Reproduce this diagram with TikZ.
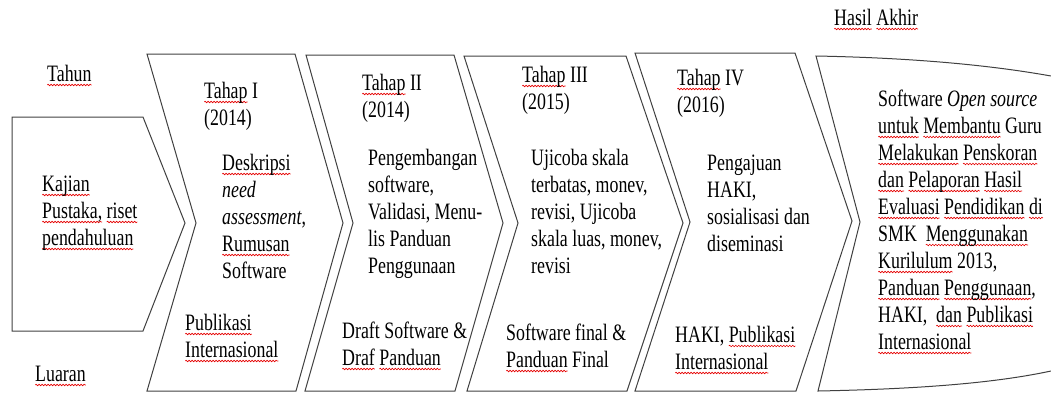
\documentclass[tikz,border=0pt]{standalone}
\usepackage{fontspec}
\setmainfont{Liberation Serif}[FakeStretch=0.76]
\usepackage{xcolor}
\usepackage{tikz}
\usetikzlibrary{decorations.pathmorphing}

\tikzset{wavy/.style={red!90!black,line width=0.6pt,decorate,
  decoration={snake,amplitude=0.8pt,segment length=3pt}}}

% red wavy line under a word
\newdimen\sqwd
\newcommand\sq[1]{\settowidth\sqwd{#1}\tikz[overlay,baseline=0pt]\draw[wavy] (0pt,-4pt) -- (\the\sqwd,-4pt);#1}

\begin{document}
\begin{tikzpicture}[x=1pt,y=-1pt,
  stage/.style={draw=black!75,line width=1pt},
  lbl/.style={anchor=base west,align=left,inner sep=0pt,font=\fontsize{23.5}{27}\selectfont}]
  \useasboundingbox (0,0) rectangle (1051,392);
  % stages
  \draw[stage] (12,117) -- (143,117) -- (185,223) -- (143,331) -- (12,331) -- cycle;
  \draw[stage] (147,54) -- (295,54) -- (343,223) -- (296,391) -- (147,391) -- (196,223) -- cycle;
  \draw[stage] (306,55) -- (454,55) -- (503,223) -- (455,391) -- (305,391) -- (353,223) -- cycle;
  \draw[stage] (464,56) -- (626,56) -- (683,223) -- (627,391) -- (467,391) -- (518,223) -- cycle;
  \draw[stage] (635,53) -- (795,53) -- (852,221) -- (796,391) -- (635,391) -- (690,222) -- cycle;
  \draw[stage] (1051,76) .. controls (995,66) and (920,58) .. (816,56) -- (860,222) -- (818,391)
    .. controls (920,389) and (995,383) .. (1051,371);
  % row labels (a node sits on the baseline of its last line)
  \node[lbl] (tahun) at (47,81) {\sq{Tahun}};
  \node[lbl] (luaran) at (35,381) {\sq{Luaran}};
  \node[lbl] (kajian) at (42,245) {\sq{Kajian}\\\sq{Pustaka,} \sq{riset}\\\sq{pendahuluan}};
  % tahap I
  \node[lbl] (thp1) at (204,125) {\sq{Tahap} I\\(2014)};
  \node[lbl] (kgt1) at (222,278) {\sq{Deskripsi}\\\textit{need}\\\textit{assessment},\\\sq{Rumusan}\\Software};
  \node[lbl] (out1) at (185,357) {\sq{Publikasi}\\\sq{Internasional}};
  % tahap II
  \node[lbl] (thp2) at (362,117) {\sq{Tahap} II\\(2014)};
  \node[lbl] (kgt2) at (368,273) {Pengembangan\\software,\\Validasi, Menu-\\lis Panduan\\Penggunaan};
  \node[lbl] (out2) at (342,365) {Draft Software \&\\\sq{Draf} \sq{Panduan}};
  % tahap III
  \node[lbl] (thp3) at (522,109) {\sq{Tahap} III\\(2015)};
  \node[lbl] (kgt3) at (531,273) {Ujicoba skala\\terbatas, monev,\\revisi, Ujicoba\\skala luas, monev,\\revisi};
  \node[lbl] (out3) at (506,367) {Software final \&\\\sq{Panduan} Final};
  % tahap IV
  \node[lbl] (thp4) at (677,112) {\sq{Tahap} IV\\(2016)};
  \node[lbl] (kgt4) at (707,251) {Pengajuan\\HAKI,\\sosialisasi dan\\diseminasi};
  \node[lbl] (out4) at (675,369) {HAKI, \sq{Publikasi}\\\sq{Internasional}};
  % hasil akhir
  \node[lbl] (hasil) at (834,25) {\sq{Hasil} \sq{Akhir}};
  \node[lbl] (akhir) at (878,349) {Software \textit{Open source}\\\sq{untuk} \sq{Membantu} Guru\\\sq{Melakukan} \sq{Penskoran}\\\sq{dan} \sq{Pelaporan} \sq{Hasil}\\\sq{Evaluasi} \sq{Pendidikan} \sq{di}\\SMK~ \sq{Menggunakan}\\\sq{Kurilulum} 2013,\\\sq{Panduan} \sq{Penggunaan},\\HAKI,~ \sq{dan} \sq{Publikasi}\\\sq{Internasional}};
\end{tikzpicture}
\end{document}
